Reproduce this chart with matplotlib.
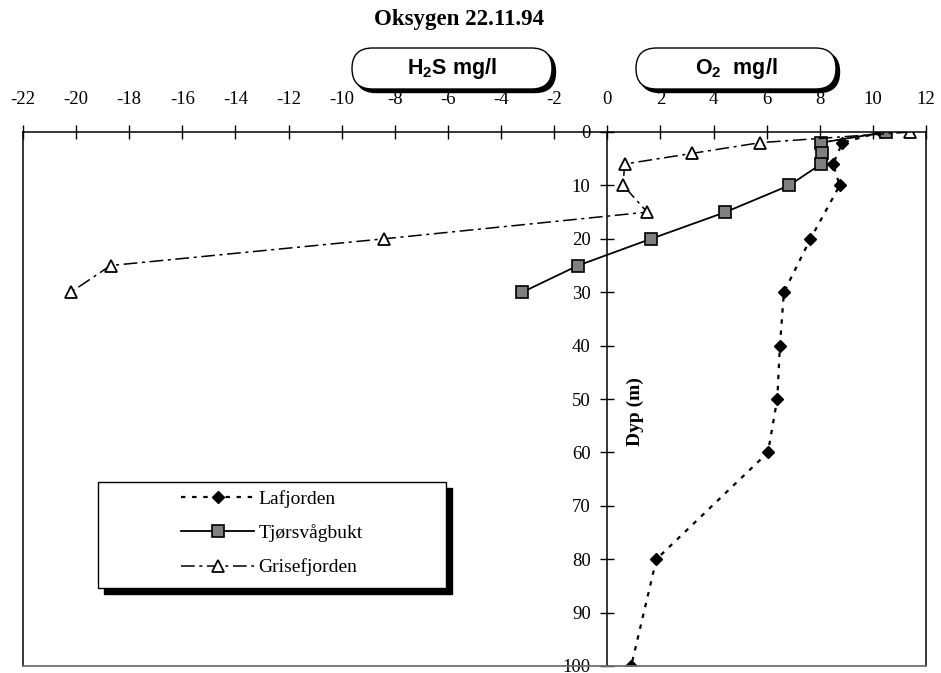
import matplotlib
matplotlib.use("Agg")
import matplotlib.pyplot as plt
import numpy as np
from matplotlib.patches import Rectangle, FancyBboxPatch

plt.rcParams['font.family'] = ['Liberation Serif', 'DejaVu Serif']
plt.rcParams['axes.unicode_minus'] = False

# --- data ---
laf_depth = [0, 2, 6, 10, 20, 30, 40, 50, 60, 80, 100]
laf_o2 = [10.3, 8.85, 8.5, 8.75, 7.65, 6.65, 6.5, 6.4, 6.05, 1.85, 0.9]

tjo_depth = [0, 2, 4, 6, 10, 15, 20, 25, 30]
tjo_o2 = [10.5, 8.05, 8.1, 8.05, 6.85, 4.45, 1.65, -1.1, -3.2]

gri_depth = [0, 2, 4, 6, 10, 15, 20, 25, 30]
gri_o2 = [11.4, 5.75, 3.2, 0.65, 0.6, 1.5, -8.4, -18.7, -20.2]

series_names = ['Lafjorden', 'Tjørsvågbukt', 'Grisefjorden']
x_ticks = np.arange(-22, 13, 2)
y_ticks = np.arange(0, 101, 10)

W, H = 941, 673
fig = plt.figure(figsize=(W / 100, H / 100), dpi=100)
ax = fig.add_axes([23 / W, 7 / H, 903 / W, 534 / H])

ax.plot(laf_o2, laf_depth, color='black', linestyle=(0, (2, 3)), lw=1.6,
        marker='D', ms=6.3, mfc='black', mec='black', label=series_names[0])
ax.plot(tjo_o2, tjo_depth, color='black', linestyle='-', lw=1.3,
        marker='s', ms=8.5, mfc='#808080', mec='black', mew=1.2, label=series_names[1])
ax.plot(gri_o2, gri_depth, color='black', linestyle=(0, (9, 3, 2, 3)), lw=1.1,
        marker='^', ms=8.5, mfc='white', mec='black', mew=1.3, label=series_names[2])

ax.set_xlim(-22, 12)
ax.set_ylim(100, 0)

# x axis on top, y axis through x = 0
ax.xaxis.tick_top()
ax.set_xticks(x_ticks)
ax.set_xticklabels([str(v) for v in x_ticks])
ax.set_yticks(y_ticks)
ax.spines['left'].set_position(('data', 0))
ax.spines['bottom'].set_color('#707070')
ax.spines['bottom'].set_linewidth(1.3)
for s in ['left', 'right', 'top']:
    ax.spines[s].set_linewidth(1.1)
ax.axvline(-22, color='black', lw=1.1, clip_on=False)
ax.tick_params(axis='x', direction='inout', length=10, width=1, pad=12, labelsize=13.5)
ax.tick_params(axis='y', direction='inout', length=10, width=1, pad=7, labelsize=13.5)

ax.set_ylabel('Dyp (m)', fontsize=14, fontweight='bold')
ax.yaxis.set_label_coords((644 - 23) / 903, 1 - (412 - 132) / 534)

# title
fig.text(459 / W, 1 - 20 / H, 'Oksygen 22.11.94', ha='center', va='center',
         fontsize=16.5, fontweight='bold')

# rounded unit labels with shadow
for x0, label in [(352, r'H$_\mathregular{2}$S mg/l'), (636, r'O$_\mathregular{2}$  mg/l')]:
    bw, bh = 2.0, 0.41
    bx, by = x0 / 100, (H - 89) / 100
    shadow = FancyBboxPatch((bx + 0.035, by - 0.035), bw, bh,
                            boxstyle='round,pad=0,rounding_size=0.205',
                            transform=fig.dpi_scale_trans, facecolor='black',
                            edgecolor='black', lw=1)
    box = FancyBboxPatch((bx, by), bw, bh,
                         boxstyle='round,pad=0,rounding_size=0.205',
                         transform=fig.dpi_scale_trans, facecolor='white',
                         edgecolor='black', lw=1)
    fig.add_artist(shadow)
    fig.add_artist(box)
    fig.text(bx + bw / 2, by + bh / 2, label, transform=fig.dpi_scale_trans,
             ha='center', va='center', fontsize=15.5, fontweight='bold',
             family='Liberation Sans')

# legend frame with shadow
lx0, ly0, lx1, ly1 = 98, 482, 446, 588
ax.add_patch(Rectangle(((lx0 + 6) / W, 1 - (ly1 + 6) / H), (lx1 - lx0) / W, (ly1 - ly0) / H,
                       transform=fig.transFigure, facecolor='black', edgecolor='black',
                       zorder=4, clip_on=False))
ax.add_patch(Rectangle((lx0 / W, 1 - ly1 / H), (lx1 - lx0) / W, (ly1 - ly0) / H,
                       transform=fig.transFigure, facecolor='white', edgecolor='black',
                       lw=1, zorder=4.1, clip_on=False))
leg = ax.legend(loc='center', bbox_to_anchor=(272 / W, 1 - 533 / H),
                bbox_transform=fig.transFigure, frameon=False, numpoints=1,
                fontsize=14, handlelength=3.75, handletextpad=0.2, labelspacing=0.85)
leg.set_zorder(5)

fig.savefig('out.png', dpi=100)
